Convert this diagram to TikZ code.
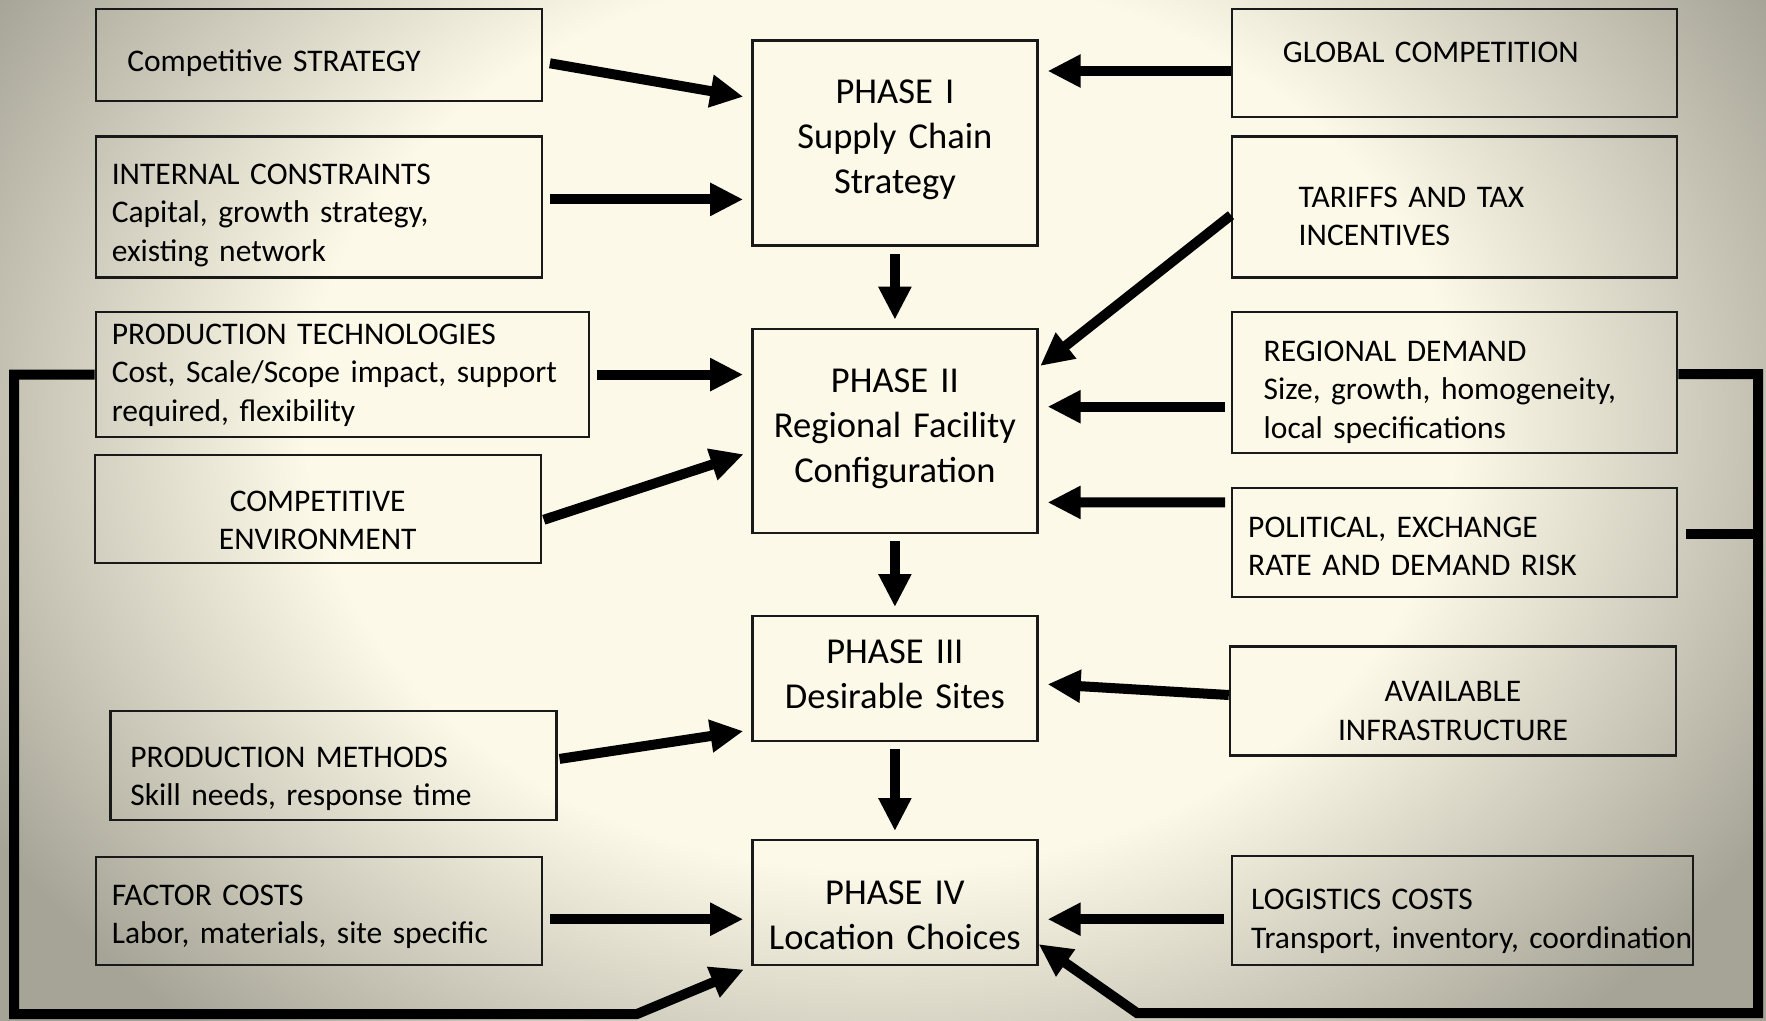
\documentclass[tikz,border=0pt]{standalone}
\usepackage{fontspec}
\setmainfont{Carlito}
\usetikzlibrary{arrows.meta,positioning}
\definecolor{bgcream}{RGB}{252,249,232}
\definecolor{bggray}{RGB}{166,164,150}
\definecolor{rim}{RGB}{25,25,25}
\pgfdeclareradialshading{slideglow}{\pgfpoint{0bp}{0bp}}{color(0bp)=(bgcream); color(12.5bp)=(bgcream); color(22.5bp)=(bggray); color(50bp)=(bggray)}
\newcommand\smalltxt{\fontsize{31.5}{38.3}\selectfont}
\newcommand\phasetxt{\fontsize{36.5}{45}\selectfont}
\tikzset{
    factor/.style={draw=rim, line width=2.4pt, anchor=north west, align=left, font=\smalltxt, inner ysep=0pt},
    phase/.style={draw=rim, line width=2.4pt, anchor=north west, align=center, font=\phasetxt,
        minimum width=285pt, text width=270pt, inner xsep=7.5pt, inner ysep=0pt},
    rise/.style={text height=0pt, text depth=#1},
    sink/.style={text height=#1, text depth=0pt},
    flow/.style={line width=10pt, -{Triangle[length=33pt,width=31pt]}, shorten >=8pt, shorten <=7pt},
    loopline/.style={line width=10pt},
}
\begin{document}
\begin{tikzpicture}[x=1pt,y=-1pt]
\useasboundingbox (0,0) rectangle (1766,1020);
\begin{scope}
    \clip (0,0) rectangle (1766,1020);
    \shade[shading=slideglow] (-270,-480) rectangle (2030,1320);
\end{scope}

% left column
\node[factor, sink=33.6pt, minimum width=446pt, minimum height=92pt, inner xsep=31.5pt, text width=383pt] (compstrat) at (94.6,7.9) {Competitive STRATEGY};
\node[factor, rise=44.8pt, minimum width=446pt, minimum height=141pt, inner xsep=15.8pt, text width=414pt] (internal) at (94.6,135.2) {INTERNAL CONSTRAINTS\\Capital, growth strategy,\\existing network};
\node[factor, rise=60.2pt, minimum width=493pt, minimum height=125pt, inner xsep=15.8pt, text width=461pt] (prodtech) at (94.6,310.9) {PRODUCTION TECHNOLOGIES\\Cost, Scale/Scope impact, support\\required, flexibility};
\node[factor, sink=4.2pt, align=center, minimum width=446pt, minimum height=108pt, inner xsep=15pt, text width=416pt] (compenv) at (93.5,453.9) {COMPETITIVE\\ENVIRONMENT};
\node[factor, sink=3.6pt, minimum width=446pt, minimum height=109pt, inner xsep=20pt, text width=406pt] (prodmeth) at (109.2,709.6) {PRODUCTION METHODS\\Skill needs, response time};
\node[factor, rise=12.4pt, minimum width=446pt, minimum height=108pt, inner xsep=15.8pt, text width=414pt] (factcost) at (94.6,856) {FACTOR COSTS\\Labor, materials, site specific};

% phases
\node[phase, rise=78.4pt, minimum height=205pt] (ph1) at (751.2,39.4) {PHASE I\\Supply Chain\\Strategy};
\node[phase, rise=76.6pt, minimum height=204pt] (ph2) at (751.2,327.7) {PHASE II\\Regional Facility\\Configuration};
\node[phase, rise=31.4pt, minimum height=125pt] (ph3) at (751.2,615) {PHASE III\\Desirable Sites};
\node[phase, sink=3pt, minimum height=125pt] (ph4) at (751.2,839) {PHASE IV\\Location Choices};

% right column
\node[factor, rise=2.2pt, minimum width=445pt, minimum height=108pt, inner xsep=50.7pt, text width=343.6pt] (global) at (1231,7.9) {GLOBAL COMPETITION};
\node[factor, sink=0.8pt, minimum width=445pt, minimum height=141pt, inner xsep=66.5pt, text width=312pt] (tariffs) at (1231,135.2) {TARIFFS AND TAX\\INCENTIVES};
\node[factor, rise=42pt, minimum width=445pt, minimum height=141pt, inner xsep=31.5pt, text width=382pt] (demand) at (1231,310.9) {REGIONAL DEMAND\\Size, growth, homogeneity,\\local specifications};
\node[factor, rise=10pt, minimum width=445pt, minimum height=109pt, inner xsep=15.8pt, text width=413pt] (risk) at (1231,486.6) {POLITICAL, EXCHANGE\\RATE AND DEMAND RISK};
\node[factor, sink=1.4pt, align=center, minimum width=446pt, minimum height=109pt, inner xsep=15pt, text width=416pt] (infra) at (1228.8,645.4) {AVAILABLE\\INFRASTRUCTURE};
\node[factor, rise=1.4pt, minimum width=461pt, minimum height=109pt, inner xsep=19pt, text width=423pt] (logist) at (1231,854.9) {LOGISTICS COSTS\\\mbox{Transport, inventory, coordination}};

\coordinate (sw) at (14,1014);
\coordinate (se) at (1758,1013);
\coordinate (riskout) at ([yshift=8.4pt]risk.east);

\draw[flow] ([yshift=-7pt]compstrat.east) -- ([yshift=45pt]ph1.west);
\draw[flow] ([yshift=7.5pt]internal.east) -- ([yshift=-56.3pt]ph1.west);
\draw[flow, shorten <=0pt, shorten >=9pt] ([yshift=-7.9pt]global.west) -- ([yshift=72.1pt]ph1.east);
\draw[flow] (ph1.south) -- (ph2.north);

\draw[flow, shorten <=0pt, shorten >=2pt] ([yshift=-8.3pt]tariffs.west) -- ([yshift=63.7pt]ph2.east);
\draw[flow] (prodtech.east) -- ([yshift=56.3pt]ph2.west);
\draw[flow, shorten <=2pt] ([yshift=-11.3pt]compenv.east) -- ([yshift=-20.8pt]ph2.west);
\draw[flow, shorten <=6pt, shorten >=9pt] ([yshift=-24.1pt]demand.west) -- ([yshift=24.2pt]ph2.east);
\draw[flow, shorten <=6pt, shorten >=9pt] ([yshift=39.9pt]risk.west) -- ([yshift=-71.5pt]ph2.east);
\draw[flow] (ph2.south) -- (ph3.north);

\draw[flow, shorten <=2pt] ([yshift=6.1pt]prodmeth.east) -- ([yshift=-51.2pt]ph3.west);
\draw[flow, shorten <=0pt, shorten >=9pt] ([yshift=6.1pt]infra.west) -- ([yshift=-5pt]ph3.east);
\draw[flow] (ph3.south) -- (ph4.north);

\draw[flow] ([yshift=-8pt]factcost.east) -- ([yshift=-16.5pt]ph4.west);
\draw[flow, shorten <=6.7pt, shorten >=9pt] ([yshift=-8.6pt]logist.west) -- ([yshift=-16.5pt]ph4.east);

% feedback loops
\draw[flow, shorten <=0pt] (prodtech.west) -| (sw) -- ++(623,0) -- (ph4.south west);
\draw[flow, shorten <=0pt, shorten >=0pt] ([yshift=8.6pt]demand.east) -| (se) -- ++(-621,0) -- ([yshift=-41.4pt]ph4.east);
\draw[loopline, shorten <=8pt] (riskout) -- (riskout -| se);
\end{tikzpicture}
\end{document}
